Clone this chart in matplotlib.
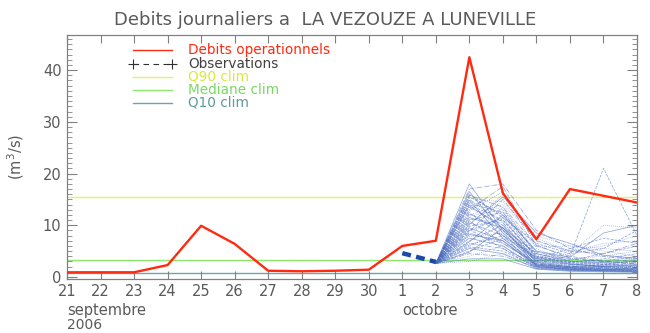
import matplotlib
matplotlib.use("Agg")
import matplotlib.pyplot as plt
from matplotlib.ticker import MultipleLocator, FixedLocator

# Days shown on the x axis (21 Sept -> 8 Oct 2006)
day_labels = ["21", "22", "23", "24", "25", "26", "27", "28", "29", "30",
              "1", "2", "3", "4", "5", "6", "7", "8"]
day_index = list(range(len(day_labels)))

# Operational daily discharge (m3/s)
debits_oper = [0.9, 0.9, 0.9, 2.3, 9.9, 6.4, 1.2, 1.1, 1.2, 1.4,
               6.0, 7.0, 42.5, 16.2, 7.3, 17.0, 15.7, 14.4]

# Observed discharge (1 Oct -> 2 Oct)
obs_index = [10, 11]
observations = [4.6, 2.9]

# Climatological quantiles
q90_clim = 15.4
mediane_clim = 3.2
q10_clim = 0.7

# Ensemble forecast members, issued on 2 Oct, values for 2 Oct -> 8 Oct
ens_index = [11, 12, 13, 14, 15, 16, 17]
ensemble = [
    [2.6, 18.0, 9.0, 3.5, 2.5, 2.0, 2.2],
    [2.6, 15.5, 12.0, 4.0, 3.0, 2.5, 3.0],
    [2.6, 15.0, 10.5, 3.0, 2.0, 1.8, 1.5],
    [2.6, 14.5, 13.0, 5.0, 3.5, 4.0, 5.0],
    [2.6, 16.5, 8.5, 2.5, 1.8, 1.5, 1.3],
    [2.6, 14.0, 11.0, 3.8, 2.8, 3.5, 4.5],
    [2.6, 13.0, 17.5, 6.0, 4.0, 3.0, 2.5],
    [2.6, 12.0, 14.0, 7.5, 5.0, 6.0, 8.0],
    [2.6, 11.5, 9.5, 2.2, 1.5, 1.2, 1.0],
    [2.6, 11.0, 12.5, 4.5, 3.2, 4.5, 6.0],
    [2.6, 10.5, 8.0, 3.2, 2.4, 2.0, 1.8],
    [2.6, 10.0, 16.0, 5.5, 3.0, 2.6, 2.2],
    [2.6, 9.5, 7.0, 2.0, 1.4, 1.3, 1.2],
    [2.6, 9.0, 11.5, 6.5, 4.5, 5.5, 9.0],
    [2.6, 8.5, 6.5, 2.8, 2.0, 1.9, 2.0],
    [2.6, 8.0, 13.5, 4.2, 2.6, 2.2, 1.9],
    [2.6, 7.5, 6.0, 1.8, 1.3, 1.2, 1.1],
    [2.6, 7.0, 10.0, 3.5, 5.5, 7.5, 6.5],
    [2.6, 6.5, 5.5, 2.4, 1.7, 1.6, 1.5],
    [2.6, 6.0, 9.0, 3.0, 2.2, 3.0, 4.0],
    [2.6, 5.5, 4.5, 1.6, 1.2, 1.1, 1.0],
    [2.6, 5.0, 7.5, 2.6, 1.9, 2.4, 3.2],
    [2.6, 4.5, 4.0, 1.9, 1.5, 1.4, 1.3],
    [2.6, 4.0, 6.0, 2.1, 1.6, 1.7, 2.0],
    [2.6, 3.5, 3.5, 1.5, 1.1, 1.0, 0.9],
    [2.6, 13.5, 10.0, 3.0, 4.0, 21.0, 8.0],
    [2.6, 12.5, 8.0, 2.0, 1.5, 1.4, 1.6],
    [2.6, 15.2, 14.5, 8.0, 6.0, 5.0, 4.0],
    [2.6, 14.8, 7.5, 2.3, 1.7, 1.5, 1.4],
    [2.6, 9.8, 11.0, 4.0, 2.8, 3.2, 3.8],
    [2.6, 8.8, 15.0, 7.0, 5.0, 4.5, 6.5],
    [2.6, 7.8, 8.5, 3.3, 2.4, 2.8, 3.5],
    [2.6, 6.8, 12.0, 5.0, 3.8, 8.5, 10.0],
    [2.6, 5.8, 5.0, 2.0, 1.5, 1.5, 1.6],
    [2.6, 10.8, 6.5, 2.5, 2.0, 2.3, 2.7],
    [2.6, 11.8, 13.0, 5.8, 6.0, 5.5, 5.0],
    [2.6, 13.8, 9.5, 2.8, 1.9, 1.7, 1.6],
    [2.6, 16.0, 11.5, 3.6, 2.7, 2.4, 2.5],
    [2.6, 17.0, 18.0, 9.0, 5.5, 4.0, 3.5],
    [2.6, 12.8, 16.5, 7.0, 4.8, 6.5, 7.0],
    [2.6, 4.8, 9.5, 4.5, 3.0, 2.8, 3.0],
    [2.6, 9.2, 5.5, 1.7, 1.3, 1.2, 1.2],
    [2.6, 14.2, 12.5, 4.8, 3.4, 3.0, 2.8],
    [2.6, 11.2, 10.5, 3.4, 4.5, 10.0, 9.5],
    [2.6, 8.2, 7.0, 2.3, 1.8, 2.0, 2.4],
    [2.6, 6.2, 8.0, 3.8, 2.5, 2.2, 2.1],
    [2.6, 15.8, 13.5, 6.2, 3.6, 3.0, 3.3],
    [2.6, 3.0, 4.5, 2.2, 1.6, 1.3, 1.2],
    [2.6, 10.2, 15.5, 8.5, 6.5, 4.2, 3.6],
    [2.6, 12.2, 9.0, 3.2, 2.2, 1.9, 1.8],
]

title = "Debits journaliers a  LA VEZOUZE A LUNEVILLE"
legend_labels = ["Debits operationnels", "Observations", "Q90 clim",
                 "Mediane clim", "Q10 clim"]

RED = "#ff2a10"
Q90_COL = "#e8f060"
MED_COL = "#8ee870"
Q10_COL = "#62aaa4"
ENS_COL = "#4a6cc0"
OBS_COL = "#1c48a8"
TXT = "#5a5a5a"

plt.rcParams["font.family"] = ["DejaVu Sans"]

fig = plt.figure(figsize=(6.5, 3.33), dpi=100)
ax = fig.add_axes([67 / 650, 1 - 278.5 / 333, 570 / 650, 243.5 / 333])

styles = ["-", "--", "-.", ":"]
for i, member in enumerate(ensemble):
    ax.plot(ens_index, member, color=ENS_COL, lw=0.55, alpha=0.6,
            ls=styles[i % len(styles)], zorder=2)

ax.axhline(q90_clim, color=Q90_COL, lw=1.0, zorder=1)
ax.axhline(mediane_clim, color=MED_COL, lw=1.0, zorder=1)
ax.axhline(q10_clim, color=Q10_COL, lw=1.0, zorder=1)

ax.plot(obs_index, observations, color=OBS_COL, lw=3.2,
        ls=(0, (2.0, 1.2)), zorder=3)
ax.plot(day_index, debits_oper, color=RED, lw=1.7, zorder=4)

ax.set_xlim(day_index[0], day_index[-1])
ax.set_ylim(-0.3, 46.8)

ax.xaxis.set_major_locator(FixedLocator(day_index))
ax.set_xticklabels(day_labels)
ax.yaxis.set_major_locator(MultipleLocator(10))
ax.yaxis.set_minor_locator(MultipleLocator(1))
ax.tick_params(axis="both", which="both", direction="in", top=True,
               right=True, colors="#808080", labelcolor=TXT, labelsize=10.5)
ax.tick_params(axis="x", which="major", length=6, pad=4)
ax.tick_params(axis="y", which="major", length=7, pad=4)
ax.tick_params(axis="y", which="minor", length=3.5)
for sp in ax.spines.values():
    sp.set_color("#808080")
    sp.set_linewidth(0.9)

ax.set_ylabel("(m$^3$/s)", color=TXT, fontsize=10.5, labelpad=12)
fig.text(0.5, 1 - 20 / 333, title, ha="center", va="center",
         color=TXT, fontsize=13)

# month / year labels under the day ticks
ax.text(day_index[0], -0.13, "septembre", transform=ax.get_xaxis_transform(),
        ha="left", va="center", color=TXT, fontsize=10.5)
ax.text(day_index[10], -0.13, "octobre", transform=ax.get_xaxis_transform(),
        ha="left", va="center", color=TXT, fontsize=10.5)
ax.text(day_index[0], -0.19, "2006", transform=ax.get_xaxis_transform(),
        ha="left", va="center", color=TXT, fontsize=10)

# hand-drawn legend block
leg_colors = [RED, "#303030", Q90_COL, MED_COL, Q10_COL]
leg_text_colors = [RED, "#404040", "#d8e840", "#7ad860", "#5a9c98"]
x0, x1, xt = 133 / 650, 172 / 650, 188 / 650
rows = [50, 64, 77, 90, 103]
for k, (lab, lc, tc, yr) in enumerate(zip(legend_labels, leg_colors,
                                          leg_text_colors, rows)):
    yf = 1 - yr / 333
    if k == 1:
        fig.lines.append(plt.Line2D([x0, x1], [yf, yf], color=lc, lw=0.8,
                                    ls=(0, (5, 4)), marker="+", markevery=[0, 1],
                                    ms=7, mew=0.8, transform=fig.transFigure))
    else:
        fig.lines.append(plt.Line2D([x0, x1], [yf, yf], color=lc, lw=1.0,
                                    transform=fig.transFigure))
    fig.text(xt, yf, lab, ha="left", va="center", color=tc, fontsize=9.8)

fig.savefig("out.png", dpi=100)
